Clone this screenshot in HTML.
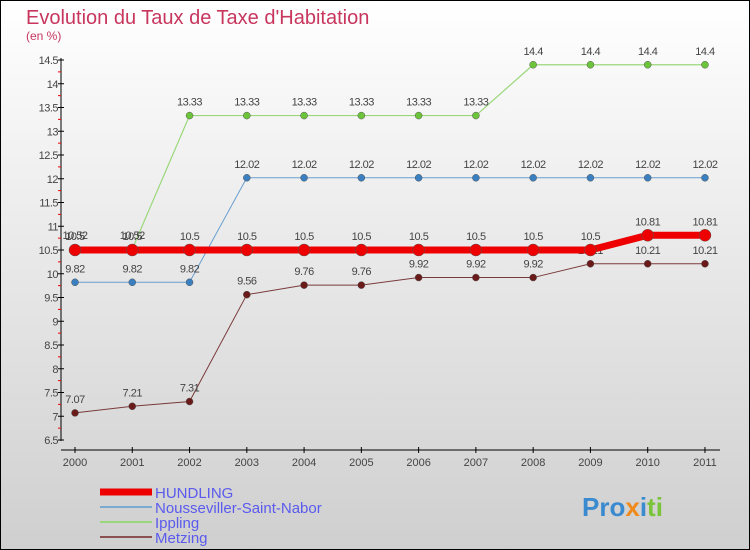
<!DOCTYPE html>
<html><head><meta charset="utf-8"><style>
body{margin:0}
#c{width:750px;height:550px;position:relative;overflow:hidden;box-sizing:border-box;border:1px solid #000;background:linear-gradient(#fff,#cfcfcf);font-family:"Liberation Sans",sans-serif}
</style></head><body>
<div id="c">
<svg id="s" width="750" height="550" style="position:absolute;left:-1px;top:-1px"></svg>
</div>
<script>
const years=["2000","2001","2002","2003","2004","2005","2006","2007","2008","2009","2010","2011"];
const yTicks=[6.5,7,7.5,8,8.5,9,9.5,10,10.5,11,11.5,12,12.5,13,13.5,14,14.5];
const hundling=[10.5,10.5,10.5,10.5,10.5,10.5,10.5,10.5,10.5,10.5,10.81,10.81];
const nousseviller=[9.82,9.82,9.82,12.02,12.02,12.02,12.02,12.02,12.02,12.02,12.02,12.02];
const nousLabels=["9.82","9.82","9.82","12.02","12.02","12.02","12.02","12.02","12.02","12.02","12.02","12.02"];
const ippling=[10.52,10.52,13.33,13.33,13.33,13.33,13.33,13.33,14.4,14.4,14.4,14.4];
const metzing=[7.07,7.21,7.31,9.56,9.76,9.76,9.92,9.92,9.92,10.21,10.21,10.21];
const S=document.getElementById('s');const NS='http://www.w3.org/2000/svg';
function el(t,a,p){const e=document.createElementNS(NS,t);for(const k in a)e.setAttribute(k,a[k]);(p||S).appendChild(e);return e;}
const X=i=>75+i*57.27, Y=v=>60+(14.5-v)*47.5;
let t=el('text',{x:26,y:24,'font-size':20,fill:'#c8365e'});t.textContent="Evolution du Taux de Taxe d'Habitation";

t=el('text',{x:26,y:40,'font-size':12,fill:'#c8365e'});t.textContent="(en %)";

let ax=el('line',{x1:61,y1:58,x2:61,y2:441,stroke:'#000'});

yTicks.forEach((v,i)=>{el('line',{x1:58,x2:64,y1:Y(v),y2:Y(v),stroke:'#000'});
 if(i<yTicks.length-1)el('line',{x1:58,x2:61,y1:Y(v+0.25),y2:Y(v+0.25),stroke:'#e00'});
 const tt=el('text',{x:58,y:Y(v)+4,'font-size':11,fill:'#444','text-anchor':'end','letter-spacing':'-0.5'});tt.textContent=v;
 });
ax=el('line',{x1:61,y1:450,x2:720,y2:450,stroke:'#000'});

years.forEach((y,i)=>{el('line',{x1:X(i),x2:X(i),y1:447,y2:453,stroke:'#000'});
 const tt=el('text',{x:X(i),y:466,'font-size':11,fill:'#444','text-anchor':'middle'});tt.textContent=y;
 });
function series(d,labels,col,dot,w,r,name){
 const pl=el('polyline',{points:d.map((v,i)=>X(i)+','+Y(v)).join(' '),fill:'none',stroke:col,'stroke-width':w});
 
 d.forEach((v,i)=>{const c=el('circle',{cx:X(i),cy:Y(v),r:r,fill:dot,stroke:'#555','stroke-width':0.5});
  
  const tt=el('text',{x:X(i),y:Y(v)-10,'font-size':11,fill:'#444','text-anchor':'middle','letter-spacing':'-0.5'});tt.textContent=labels[i];
  });
}
series(metzing,metzing.map(String),'#7a3a3a','#6b1a1a',1,3.5,'metzing');
series(nousseviller,nousLabels,'#6a9fd0','#3a7fc0',1,3.5,'nousseviller');
series(ippling,ippling.map(String),'#9ad77a','#6cc43a',1.2,3.5,'ippling');
series(hundling,hundling.map(String),'#ee0000','#ee0000',7,6,'hundling');
const leg=[["HUNDLING","#ee0000",7],["Nousseviller-Saint-Nabor","#7aaad0",2],["Ippling","#9ad77a",2],["Metzing","#8a5050",2]];
leg.forEach((l,i)=>{const y=492+i*15;
 const g=el('g',{});
 el('line',{x1:100,x2:152,y1:y,y2:y,stroke:l[1],'stroke-width':l[2]},g);
 const tt=el('text',{x:155,y:y+6,'font-size':15,fill:'#5a5aee'},g);tt.textContent=l[0];});
t=el('text',{x:582,y:516,'font-size':26,'font-weight':'bold',fill:'#3a8ad0'});t.textContent="Pro";

const x2=el('tspan',{fill:'#f08a1a'},t);x2.textContent="x";const x3=el('tspan',{fill:'#3a8ad0'},t);x3.textContent="i";
const x4=el('tspan',{fill:'#7ac43a'},t);x4.textContent="ti";
</script>
</body></html>
